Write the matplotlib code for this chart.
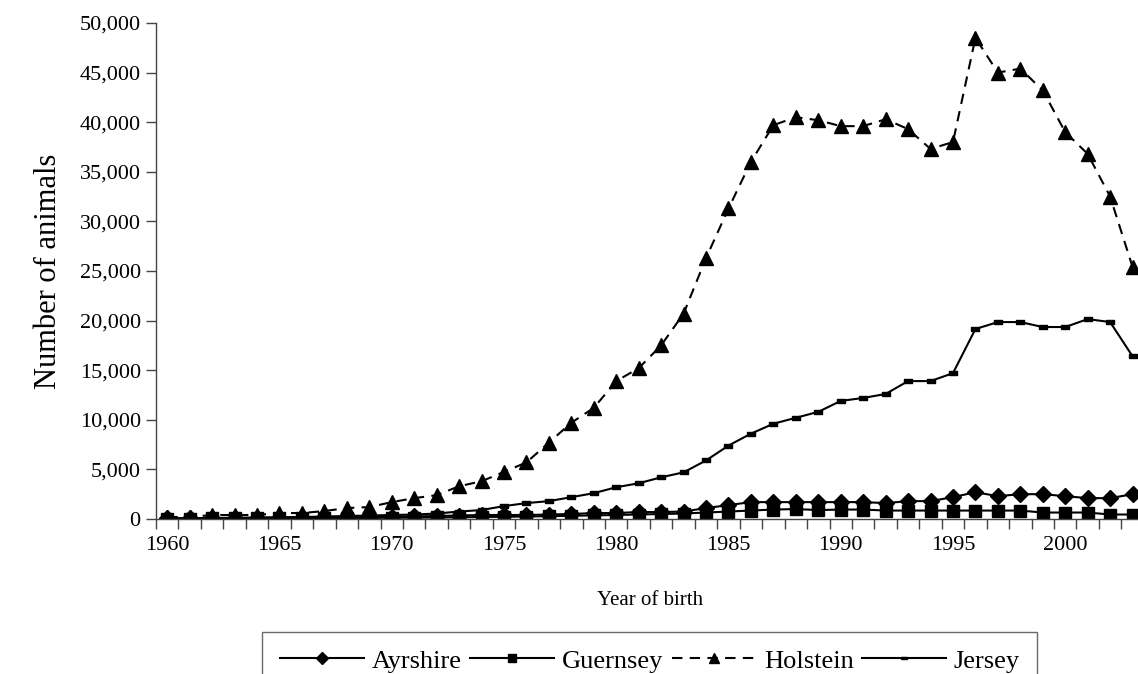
import matplotlib
matplotlib.use("Agg")
import matplotlib.pyplot as plt
from matplotlib.ticker import FuncFormatter, MultipleLocator
import numpy as np

plt.rcParams['font.family'] = ['Liberation Serif', 'DejaVu Serif']

years = list(range(1960, 2004))

ayrshire = [50, 60, 80, 90, 100, 120, 130, 150, 170, 200,
            230, 260, 300, 350, 400, 400, 400, 450, 500, 600,
            600, 700, 700, 750, 1100, 1400, 1700, 1700, 1700, 1700,
            1700, 1700, 1600, 1800, 1800, 2200, 2700, 2300, 2500, 2500,
            2300, 2100, 2100, 2500]

guernsey = [30, 40, 50, 50, 60, 70, 80, 90, 100, 110,
            120, 130, 150, 170, 200, 220, 250, 280, 320, 360,
            400, 450, 500, 550, 650, 750, 850, 950, 1000, 900,
            950, 950, 850, 850, 850, 850, 850, 850, 850, 650,
            650, 650, 450, 450]

holstein = [200, 200, 400, 400, 400, 600, 600, 800, 1100, 1200,
            1700, 2100, 2400, 3300, 3800, 4750, 5700, 7700, 9700, 11200,
            13900, 15200, 17500, 20700, 26300, 31300, 36000, 39700, 40500, 40200,
            39600, 39600, 40300, 39300, 37300, 38000, 48500, 45000, 45400, 43200,
            39000, 36800, 32500, 25400]

jersey = [60, 80, 100, 120, 150, 180, 200, 250, 300, 350,
          400, 450, 550, 750, 900, 1300, 1600, 1800, 2200, 2600,
          3200, 3600, 4200, 4700, 5900, 7400, 8600, 9600, 10200, 10800,
          11900, 12200, 12600, 13900, 13900, 14700, 19150, 19850, 19850, 19350,
          19350, 20150, 19850, 16400]

fig = plt.figure(figsize=(11.38, 6.74), dpi=100)
# the original plot runs slightly past the right edge of the picture
ax = fig.add_axes([0.1371, 0.2300, 0.868, 0.7359])

dash_marker = [(-1, -0.45), (1, -0.45), (1, 0.45), (-1, 0.45), (-1, -0.45)]

ax.plot(years, ayrshire, color='black', lw=1.5, marker='D', markersize=8, label='Ayrshire')
ax.plot(years, guernsey, color='black', lw=1.5, marker='s', markersize=8, label='Guernsey')
ax.plot(years, holstein, color='black', lw=1.5, ls=(0, (5, 3.5)), marker='^', markersize=10,
        label='Holstein')
ax.plot(years, jersey, color='black', lw=1.5, marker=dash_marker, markersize=6, label='Jersey')

ax.set_xlim(1959.5, 2003.5)
ax.set_ylim(0, 50000)

ax.xaxis.set_major_locator(MultipleLocator(5))
ax.xaxis.set_minor_locator(MultipleLocator(1, offset=0.5))
ax.tick_params(axis='x', which='major', length=0, pad=12, labelsize=16)
ax.tick_params(axis='x', which='minor', length=7, width=1, color='#444444')
ax.yaxis.set_major_locator(MultipleLocator(5000))
ax.yaxis.set_major_formatter(FuncFormatter(lambda v, p: f"{int(v):,}"))
ax.tick_params(axis='y', length=7, width=1, color='#444444', labelsize=16, pad=4)

ax.spines['top'].set_visible(False)
ax.spines['right'].set_visible(False)
for s in ('left', 'bottom'):
    ax.spines[s].set_color('#444444')
    ax.spines[s].set_linewidth(1)

ax.set_xlabel('Year of birth', fontsize=15, labelpad=26)
ax.set_ylabel('Number of animals', fontsize=22, labelpad=12)

# legend box runs off the bottom of the picture, as in the original
leg = fig.legend(loc='upper center', bbox_to_anchor=(0.571, 1 - 632 / 674), ncol=4,
                 fontsize=19, frameon=True, fancybox=False, handlelength=3.2,
                 handletextpad=0.3, columnspacing=0.3, borderpad=0.65,
                 borderaxespad=0, markerscale=0.75)
leg.get_frame().set_edgecolor('#444444')
leg.get_frame().set_linewidth(1)

fig.savefig('out.png', dpi=100)
